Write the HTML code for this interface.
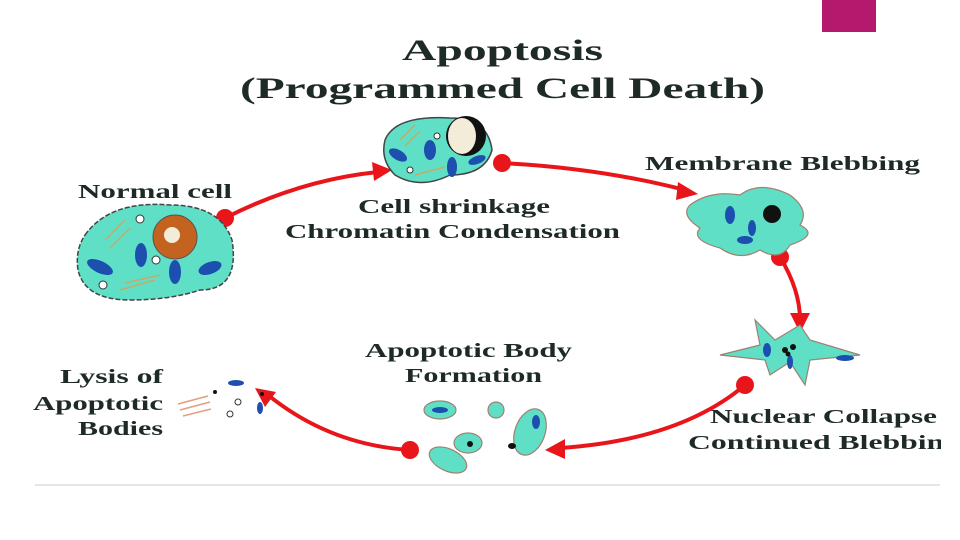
<!DOCTYPE html>
<html><head><meta charset="utf-8"><style>
html,body{margin:0;padding:0;background:#fff;}
svg{display:block}
text{font-family:"Liberation Serif",serif;font-weight:bold;fill:#1e2a26;}
</style></head><body>
<svg width="960" height="540" viewBox="0 0 960 540" xmlns="http://www.w3.org/2000/svg">
<rect x="822" y="0" width="54" height="32" fill="#b5196e"/>
<line x1="35" y1="485" x2="940" y2="485" stroke="#e6e6e6" stroke-width="2"/>
<text x="402" y="60" font-size="30" textLength="201" lengthAdjust="spacingAndGlyphs" fill="#2a3a34">Apoptosis</text>
<text x="240" y="98" font-size="30" textLength="525" lengthAdjust="spacingAndGlyphs" fill="#2a3a34">(Programmed Cell Death)</text>

<g font-size="20">
<text x="78" y="198" textLength="154" lengthAdjust="spacingAndGlyphs">Normal cell</text>
<text x="358" y="213" textLength="192" lengthAdjust="spacingAndGlyphs">Cell shrinkage</text>
<text x="285" y="238" textLength="335" lengthAdjust="spacingAndGlyphs">Chromatin Condensation</text>
<text x="645" y="170" textLength="275" lengthAdjust="spacingAndGlyphs">Membrane Blebbing</text>
<text x="710" y="423" textLength="227" lengthAdjust="spacingAndGlyphs">Nuclear Collapse</text>
<text x="688" y="449" textLength="272" lengthAdjust="spacingAndGlyphs">Continued Blebbing</text>
<text x="365" y="357" textLength="207" lengthAdjust="spacingAndGlyphs">Apoptotic Body</text>
<text x="405" y="382" textLength="137" lengthAdjust="spacingAndGlyphs">Formation</text>
<text x="60" y="383" textLength="103" lengthAdjust="spacingAndGlyphs">Lysis of</text>
<text x="33" y="410" textLength="130" lengthAdjust="spacingAndGlyphs">Apoptotic</text>
<text x="78" y="435" textLength="85" lengthAdjust="spacingAndGlyphs">Bodies</text>
</g>
<rect x="941" y="425" width="20" height="30" fill="#fff"/>

<!-- arrows -->
<g stroke="#e8161b" stroke-width="4" fill="none">
<path d="M225 218 Q300 180 378 172"/>
<path d="M502 163 Q600 168 685 190"/>
<path d="M780 257 Q800 290 800 320"/>
<path d="M745 385 Q680 440 560 448"/>
<path d="M410 450 Q330 445 268 395"/>
</g>
<g fill="#e8161b">
<circle cx="225" cy="218" r="9"/><polygon points="392,170 372,162 374,181"/>
<circle cx="502" cy="163" r="9"/><polygon points="698,194 678,182 676,200"/>
<circle cx="780" cy="257" r="9"/><polygon points="800,333 790,313 810,313"/>
<circle cx="745" cy="385" r="9"/><polygon points="545,450 565,439 565,459"/>
<circle cx="410" cy="450" r="9"/><polygon points="255,388 276,392 265,407"/>
</g>

<!-- normal cell -->
<path d="M85 235 Q110 200 170 205 Q220 205 232 240 Q240 290 200 290 Q170 300 130 300 Q85 300 78 270 Q75 250 85 235Z" fill="#5fe0c6" stroke="#444" stroke-width="1.5" stroke-dasharray="5,2"/>
<circle cx="175" cy="237" r="22" fill="#c4621f" stroke="#555"/>
<circle cx="172" cy="235" r="8" fill="#f3ecd8"/>
<g fill="#1d4fae">
<ellipse cx="100" cy="267" rx="14" ry="6" transform="rotate(25 100 267)"/>
<ellipse cx="141" cy="255" rx="6" ry="12"/>
<ellipse cx="175" cy="272" rx="6" ry="12"/>
<ellipse cx="210" cy="268" rx="12" ry="6" transform="rotate(-20 210 268)"/>
</g>
<g fill="#fff" stroke="#333"><circle cx="140" cy="219" r="4"/><circle cx="156" cy="260" r="4"/><circle cx="103" cy="285" r="4"/></g>
<g stroke="#c9a86a" stroke-width="1.5"><path d="M105 240 l20 -20 M110 248 l20 -20 M120 290 l35 -10 M125 283 l35 -8"/></g>

<!-- shrinkage cell -->
<path d="M385 140 Q395 115 450 118 Q488 118 492 150 Q485 175 450 175 Q420 190 395 175 Q380 160 385 140Z" fill="#5fe0c6" stroke="#444" stroke-width="1.5"/>
<ellipse cx="466" cy="136" rx="20" ry="20" fill="#111"/>
<ellipse cx="462" cy="136" rx="14" ry="18" fill="#f3ecd8"/>
<g fill="#1d4fae"><ellipse cx="398" cy="155" rx="10" ry="5" transform="rotate(30 398 155)"/><ellipse cx="430" cy="150" rx="6" ry="10"/><ellipse cx="452" cy="167" rx="5" ry="10"/><ellipse cx="477" cy="160" rx="9" ry="4" transform="rotate(-20 477 160)"/></g>
<g fill="#fff" stroke="#333"><circle cx="437" cy="136" r="3"/><circle cx="410" cy="170" r="3"/></g>
<g stroke="#c9a86a" stroke-width="1.5"><path d="M400 140 l15 -15 M405 146 l15 -15 M415 175 l30 -8"/></g>

<!-- membrane blebbing -->
<path d="M690 205 Q710 190 740 195 Q760 180 790 195 Q810 210 800 225 Q820 235 790 245 Q780 262 760 250 Q740 262 720 248 Q690 240 700 228 Q680 215 690 205Z" fill="#5fe0c6" stroke="#a08070" stroke-width="1.2"/>
<circle cx="772" cy="214" r="9" fill="#111"/>
<g fill="#1d4fae"><ellipse cx="730" cy="215" rx="5" ry="9"/><ellipse cx="752" cy="228" rx="4" ry="8"/><ellipse cx="745" cy="240" rx="8" ry="4"/></g>

<!-- nuclear collapse -->
<path d="M720 355 L760 345 L755 320 L775 340 L800 325 L810 340 L860 355 L810 360 L805 385 L790 362 L770 375 L765 360 Z" fill="#5fe0c6" stroke="#a08070" stroke-width="1.2"/>
<g fill="#1d4fae"><ellipse cx="767" cy="350" rx="4" ry="7"/><ellipse cx="790" cy="362" rx="3" ry="7"/><ellipse cx="845" cy="358" rx="9" ry="3"/></g>
<g fill="#111"><circle cx="785" cy="350" r="3"/><circle cx="793" cy="347" r="3"/><circle cx="788" cy="354" r="2.5"/></g>

<!-- apoptotic bodies -->
<g fill="#5fe0c6" stroke="#a08070" stroke-width="1.2">
<ellipse cx="440" cy="410" rx="16" ry="9"/>
<ellipse cx="496" cy="410" rx="8" ry="8"/>
<ellipse cx="530" cy="432" rx="15" ry="24" transform="rotate(20 530 432)"/>
<ellipse cx="468" cy="443" rx="14" ry="10"/>
<ellipse cx="448" cy="460" rx="20" ry="11" transform="rotate(25 448 460)"/>
</g>
<g fill="#1d4fae"><ellipse cx="440" cy="410" rx="8" ry="3"/><ellipse cx="536" cy="422" rx="4" ry="7"/></g>
<g fill="#111"><circle cx="470" cy="444" r="3"/><ellipse cx="512" cy="446" rx="4" ry="3"/></g>

<!-- lysis debris -->
<ellipse cx="236" cy="383" rx="8" ry="3" fill="#1d4fae"/>
<ellipse cx="260" cy="408" rx="3" ry="6" fill="#1d4fae"/>
<g fill="#111"><circle cx="215" cy="392" r="2"/><circle cx="262" cy="394" r="2"/></g>
<g fill="#fff" stroke="#333"><circle cx="238" cy="402" r="3"/><circle cx="230" cy="414" r="3"/></g>
<g stroke="#e0a080" stroke-width="1.5"><path d="M178 404 l30 -8 M180 410 l30 -8 M183 416 l28 -7"/></g>
</svg>
</body></html>
